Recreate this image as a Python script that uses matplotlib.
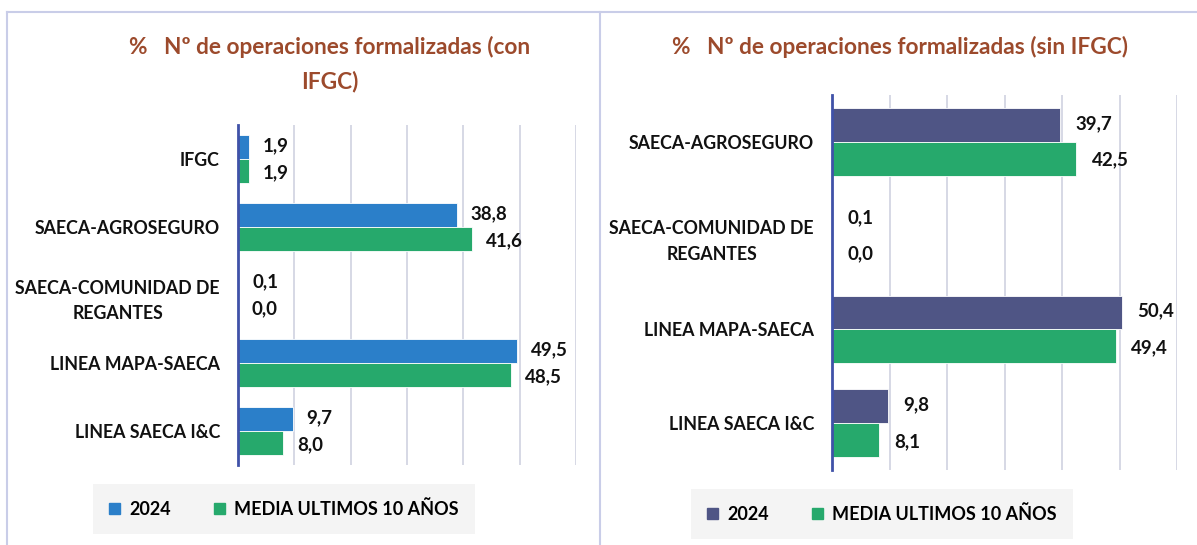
import numpy as np
import matplotlib
matplotlib.use('Agg')
import matplotlib.pyplot as plt
from matplotlib.lines import Line2D
from matplotlib.patches import Patch

plt.rcParams['font.family'] = ['Lato', 'DejaVu Sans']
plt.rcParams['font.weight'] = 'bold'

# datos panel izquierdo (con IFGC)
cats_con = ['IFGC', 'SAECA-AGROSEGURO', 'SAECA-COMUNIDAD DE\nREGANTES',
            'LINEA MAPA-SAECA', 'LINEA SAECA I&C']
v2024_con = [1.9, 38.8, 0.1, 49.5, 9.7]
media_con = [1.9, 41.6, 0.0, 48.5, 8.0]

# datos panel derecho (sin IFGC)
cats_sin = ['SAECA-AGROSEGURO', 'SAECA-COMUNIDAD DE\nREGANTES',
            'LINEA MAPA-SAECA', 'LINEA SAECA I&C']
v2024_sin = [39.7, 0.1, 50.4, 9.8]
media_sin = [42.5, 0.0, 49.4, 8.1]

legend_labels = ['2024', 'MEDIA ULTIMOS 10 AÑOS']

title_color = '#9C4A2C'
green = '#26A96C'
blue = '#2B7FC9'
slate = '#4F5585'
grid_color = '#D3D6E3'
axis_color = '#4052A8'
frame_color = '#C9CDE8'

fig = plt.figure(figsize=(11.97, 5.45), dpi=100)

# marcos de los dos paneles
fig.add_artist(Line2D([7/1197, 1], [1-12/545, 1-12/545], color=frame_color, lw=1.5))
fig.add_artist(Line2D([7/1197, 7/1197], [0, 1-12/545], color=frame_color, lw=1.5))
fig.add_artist(Line2D([600/1197, 600/1197], [0, 1-12/545], color=frame_color, lw=1.5))


def panel(rect, cats, a, b, col_a, bar_h, label_pad):
    ax = fig.add_axes(rect)
    y = np.arange(len(cats))
    ax.barh(y - bar_h/2, a, height=bar_h, color=col_a, edgecolor='white', lw=0.6, zorder=3)
    ax.barh(y + bar_h/2, b, height=bar_h, color=green, edgecolor='white', lw=0.6, zorder=3)
    for yi, va, vb in zip(y, a, b):
        ax.annotate(f'{va:.1f}'.replace('.', ','), (va, yi - bar_h/2), xytext=(label_pad, 1),
                    textcoords='offset points', va='center', ha='left', fontsize=13.5, color='#111111')
        ax.annotate(f'{vb:.1f}'.replace('.', ','), (vb, yi + bar_h/2), xytext=(label_pad, -1),
                    textcoords='offset points', va='center', ha='left', fontsize=13.5, color='#111111')
    ax.set_xlim(0, 60)
    ax.set_ylim(len(cats) - 0.5, -0.5)
    ax.set_xticks(np.arange(0, 61, 10))
    ax.set_xticklabels([])
    ax.tick_params(axis='x', length=0)
    ax.tick_params(axis='y', length=0, pad=13, labelsize=12.8)
    ax.set_yticks(y)
    ax.set_yticklabels(cats, ha='right', color='#111111', multialignment='center', linespacing=1.6)
    ax.xaxis.grid(True, color=grid_color, lw=1.3, zorder=0)
    for s in ['top', 'right', 'bottom']:
        ax.spines[s].set_visible(False)
    ax.spines['left'].set_color(axis_color)
    ax.spines['left'].set_linewidth(2)
    ax.spines['left'].set_zorder(4)
    return ax


ax1 = panel([238/1197, 1-465/545, 338/1197, 340/545], cats_con, v2024_con, media_con, blue, 0.36, 10)
ax2 = panel([832/1197, 1-470/545, 345/1197, 375/545], cats_sin, v2024_sin, media_sin, slate, 0.36, 11)

fig.text(330/1197, 1-47/545, '%   Nº de operaciones formalizadas (con', ha='center', va='center',
         fontsize=16.3, color=title_color)
fig.text(330/1197, 1-81/545, 'IFGC)', ha='center', va='center', fontsize=16.3, color=title_color)
fig.text(900/1197, 1-47/545, '%   Nº de operaciones formalizadas (sin IFGC)', ha='center', va='center',
         fontsize=16.3, color=title_color)

for ax, col, cx, cy in [(ax1, blue, 284/1197, 1-509/545), (ax2, slate, 882/1197, 1-514/545)]:
    handles = [Patch(color=col), Patch(color=green)]
    leg = fig.legend(handles, legend_labels, loc='center', bbox_to_anchor=(cx, cy), ncol=2,
                     frameon=True, fontsize=13, handlelength=0.6, handleheight=0.6,
                     columnspacing=2.4, handletextpad=0.5, borderpad=0.9)
    leg.get_frame().set_facecolor('#F2F2F2')
    leg.get_frame().set_edgecolor('none')
    leg.get_frame().set_boxstyle('square', pad=0)

fig.savefig('out.png', dpi=100)
